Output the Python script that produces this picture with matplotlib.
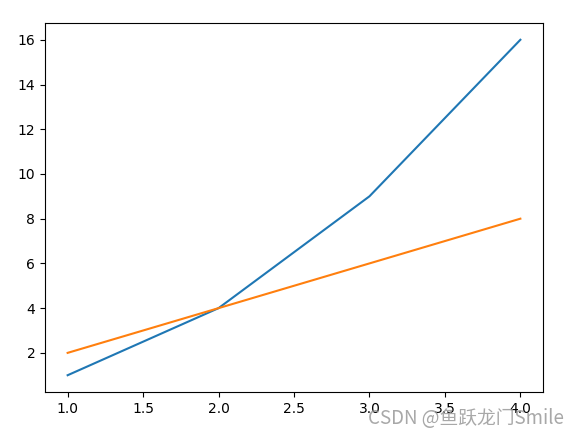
import matplotlib
matplotlib.use("Agg")
import matplotlib.pyplot as plt

x = [1, 2, 3, 4]
y_square = [1, 4, 9, 16]
y_double = [2, 4, 6, 8]

fig = plt.figure(figsize=(5.78, 4.36), dpi=100)
ax = fig.add_axes([45 / 578, 1 - 392 / 436, 498 / 578, 369 / 436])
ax.plot(x, y_square)
ax.plot(x, y_double)

# watermark
fig.text(0.975, 0.04, "CSDN @鱼跃龙门Smile", ha="right", va="center",
         fontsize=13.5, color="#999999", alpha=0.85,
         family=["Noto Sans CJK SC", "DejaVu Sans"])

fig.savefig("out.png", dpi=100)
